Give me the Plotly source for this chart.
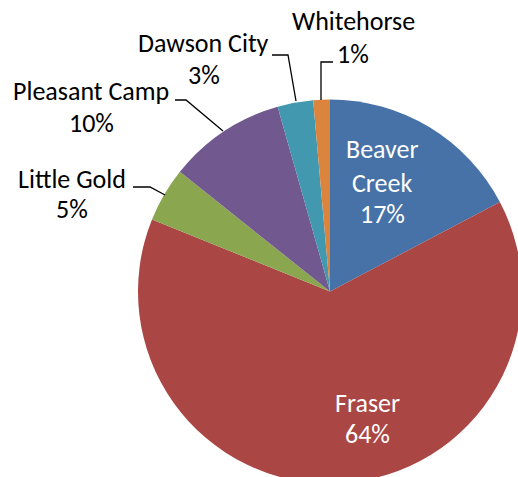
import plotly.graph_objects as go

# ---- data ----
labels = ["Beaver Creek", "Fraser", "Little Gold", "Pleasant Camp", "Dawson City", "Whitehorse"]
values = [17.3, 63.9, 4.6, 9.9, 3.0, 1.4]
colors = ["#4672A8", "#AA4644", "#8AA64F", "#71588F", "#4198AF", "#DB843D"]

total = sum(values)
percents = [f"{round(v / total * 100)}%" for v in values]

# ---- layout (pixels of the 518x477 view) ----
W, H = 530, 490
FONT = "Carlito, Lato, sans-serif"
FS = 26

def px(x):
    return x / W

def py(y):
    return 1 - y / H

name_lines = {
    0: [("Beaver", 382, 158), ("Creek", 382, 192)],
    1: [("Fraser", 367, 412)],
    2: [(None, 72, 188)],
    3: [(None, 91, 100)],
    4: [(None, 203, 52)],
    5: [(None, 353, 30)],
}
pct_pos = {0: (382, 223), 1: (367, 443), 2: (72, 218), 3: (91, 132), 4: (204, 84), 5: (353, 63)}
inside = {0, 1}

leaders = [
    [(333, 62), (321, 62), (321, 100)],
    [(272, 55), (288, 55), (296, 101)],
    [(175, 100), (186, 100), (223, 131)],
    [(133, 187), (150, 187), (165, 195)],
]

fig = go.Figure(
    go.Pie(
        labels=labels,
        values=values,
        marker=dict(colors=colors, line=dict(width=0)),
        sort=False,
        direction="clockwise",
        rotation=0,
        textinfo="none",
        hoverinfo="label+percent",
        showlegend=False,
        domain=dict(x=[px(138), px(522)], y=[py(483.5), py(99.5)]),
    )
)

annotations = []
off = FS * 0.34
for i, lines in name_lines.items():
    col = "white" if i in inside else "black"
    for txt, x, b in lines:
        annotations.append(dict(
            x=px(x), y=py(b - off), xref="paper", yref="paper",
            text=txt if txt is not None else labels[i], showarrow=False,
            xanchor="center", yanchor="middle",
            font=dict(family=FONT, size=FS, color=col),
        ))
    x, b = pct_pos[i]
    annotations.append(dict(
        x=px(x), y=py(b - off), xref="paper", yref="paper",
        text=percents[i], showarrow=False,
        xanchor="center", yanchor="middle",
        font=dict(family=FONT, size=FS, color=col),
    ))

shapes = []
for pts in leaders:
    path = "M " + " L ".join(f"{px(x)},{py(y)}" for x, y in pts)
    shapes.append(dict(type="path", path=path, xref="paper", yref="paper",
                       line=dict(color="black", width=1.3)))

fig.update_layout(
    width=W, height=H,
    margin=dict(l=0, r=0, t=0, b=0),
    paper_bgcolor="white", plot_bgcolor="white",
    annotations=annotations, shapes=shapes,
)

fig.write_html(
    "out.html",
    config={"displayModeBar": False},
    post_script="document.body.style.margin='0';document.body.style.overflow='hidden';document.documentElement.style.overflow='hidden';",
)
